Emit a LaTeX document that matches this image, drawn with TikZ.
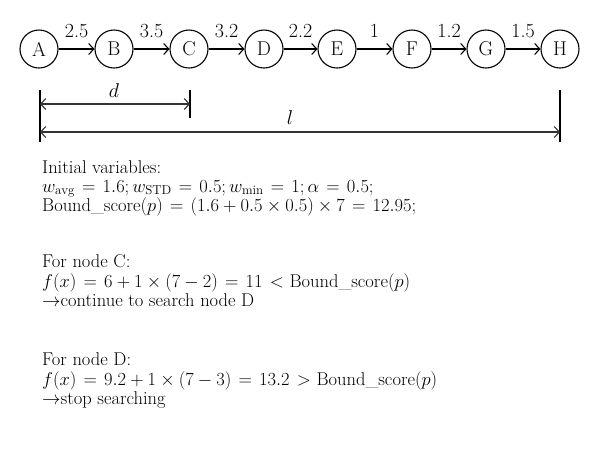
\RequirePackage{fix-cm}
\documentclass[tikz,border=0pt]{standalone}
\usepackage{fontspec}
\usetikzlibrary{arrows.meta}
\newcommand{\mytxtfont}{\fontsize{18.5}{20}\selectfont\thickmuskip=7mu plus 5mu\relax}
\begin{document}
\begin{tikzpicture}[x=1pt,y=-1pt,
  vtx/.style={circle,draw,line width=1.1pt,minimum size=38pt,inner sep=0pt,font=\fontsize{20}{22}\selectfont},
  edge/.style={line width=1.1pt,-{Straight Barb[length=5pt,width=11pt,line width=1.1pt]}},
  elab/.style={above=11pt,inner sep=0pt,font=\fontsize{20}{22}\selectfont},
  tick/.style={line width=1.1pt},
  dim/.style={line width=1.4pt,black!80,{Straight Barb[length=5pt,width=11pt,line width=1.1pt]}-{Straight Barb[length=5pt,width=11pt,line width=1.1pt]}},
  txt/.style={anchor=base west,inner sep=0pt,font=\mytxtfont}]
\useasboundingbox (0,0) rectangle (600,459);
% nodes
\node[vtx] (A) at (39,49) {A};
\node[vtx] (B) at (114,49) {B};
\node[vtx] (C) at (189,49) {C};
\node[vtx] (D) at (264,49) {D};
\node[vtx] (E) at (337,49) {E};
\node[vtx] (F) at (412,49) {F};
\node[vtx] (G) at (486,49) {G};
\node[vtx] (H) at (560,49) {H};
\draw[edge] (A) -- node[elab]{2.5} (B);
\draw[edge] (B) -- node[elab]{3.5} (C);
\draw[edge] (C) -- node[elab]{3.2} (D);
\draw[edge] (D) -- node[elab]{2.2} (E);
\draw[edge] (E) -- node[elab]{1} (F);
\draw[edge] (F) -- node[elab]{1.2} (G);
\draw[edge] (G) -- node[elab]{1.5} (H);
% dimension ticks
\coordinate (a1) at (40,90);
\coordinate (a2) at (40,142);
\coordinate (c1) at (190,90);
\coordinate (c2) at (190,118);
\coordinate (h1) at (560,90);
\coordinate (h2) at (560,142);
\draw[tick] (a1) -- (a2);
\draw[tick] (c1) -- (c2);
\draw[tick] (h1) -- (h2);
\coordinate (d1) at (40,104);
\coordinate (d2) at (190,104);
\coordinate (l1) at (40,132);
\coordinate (l2) at (560,132);
\draw[dim] (d1) -- (d2);
\draw[dim] (l1) -- (l2);
\node[font=\fontsize{20}{22}\selectfont] (dl) at (114,91) {$d$};
\node[font=\fontsize{20}{22}\selectfont] (ll) at (290,118) {$l$};
% text
\node[txt] (t1) at (42,173) {Initial variables:};
\node[txt] (t2) at (42,192) {$w_{\mathrm{avg}} = 1.6; w_{\mathrm{STD}} = 0.5; w_{\min} = 1; \alpha = 0.5;$};
\node[txt] (t3) at (42,211) {Bound\_score$(p) = (1.6 + 0.5 \times 0.5) \times 7 = 12.95;$};
\node[txt] (t4) at (42,267) {For node C:};
\node[txt] (t5) at (42,287) {$f(x) = 6 + 1 \times (7 - 2) = 11 <$ Bound\_score$(p)$};
\node[txt] (t6) at (42,306) {$\rightarrow$continue to search node D};
\node[txt] (t7) at (42,365) {For node D:};
\node[txt] (t8) at (42,385) {$f(x) = 9.2 + 1 \times (7 - 3) = 13.2 >$ Bound\_score$(p)$};
\node[txt] (t9) at (42,404) {$\rightarrow$stop searching};
\end{tikzpicture}
\end{document}
